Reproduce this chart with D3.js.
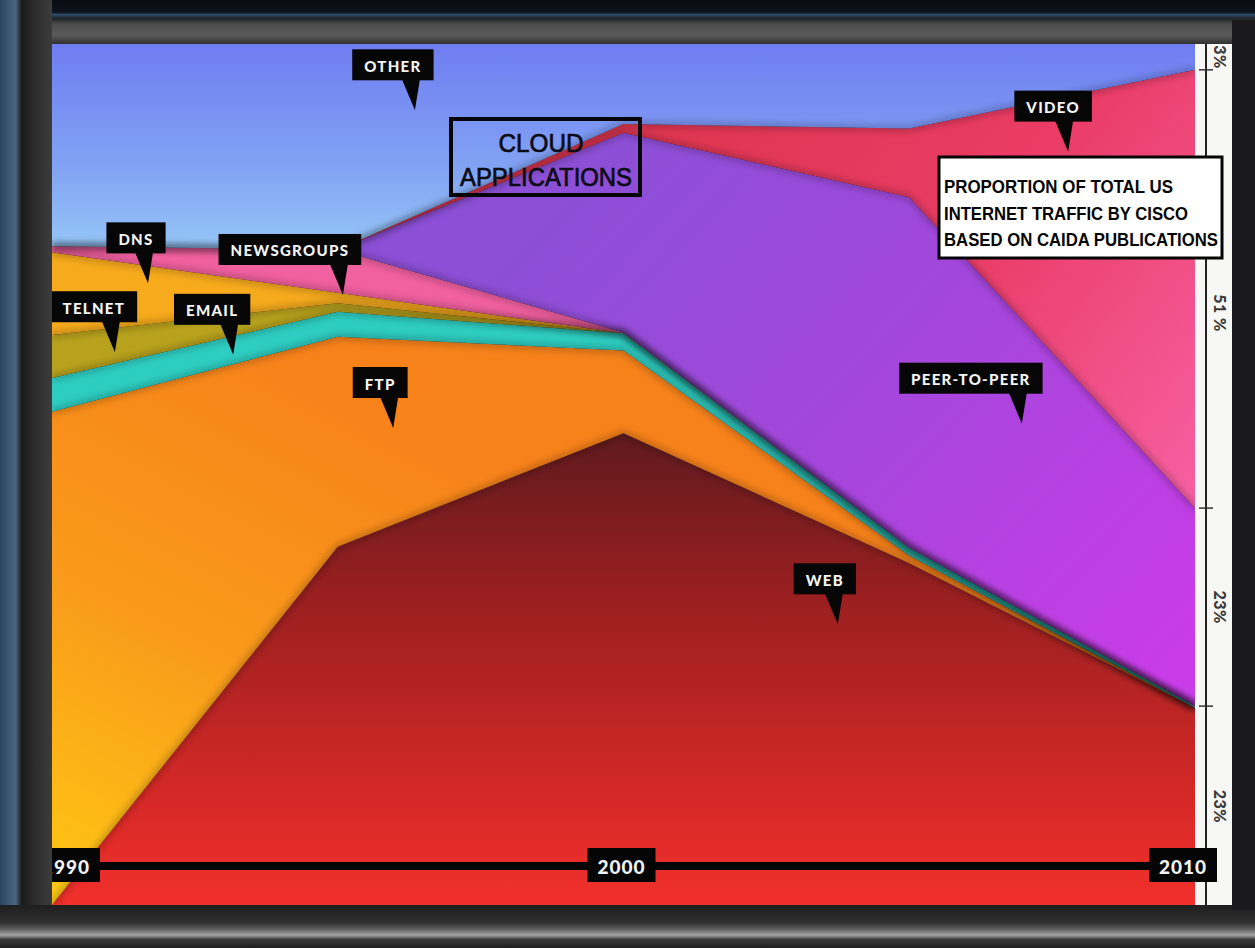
<!DOCTYPE html>
<html><head><meta charset="utf-8">
<script src="https://cdn.jsdelivr.net/npm/d3@7"></script>
<style>html,body{margin:0;padding:0;background:#1b1d21;overflow:hidden}svg{display:block}</style>
</head><body><svg id="c" width="1255" height="948"></svg>
<script>
// ---- data (percent of total traffic) ----
const years      = [1990, 1995, 2000, 2005, 2010];
const web        = [0.0, 41.6, 54.8, 39.7, 22.9];
const ftp        = [57.3, 24.4, 9.6, 0.9, 0.0];
const email      = [3.9, 2.9, 2.0, 0.9, 0.2];
const telnet     = [5.0, 1.0, 0.0, 0.0, 0.0];
const dns        = [9.6, 1.2, 0.0, 0.0, 0.0];
const newsgroups = [0.7, 5.0, 0.1, 0.0, 0.0];
const p2p        = [0.0, 0.0, 23.2, 40.7, 23.0];
const video      = [0.0, 0.0, 1.0, 8.0, 50.9];
const other      = [23.5, 23.9, 9.3, 9.8, 3.0];
const seriesNames = ["WEB","FTP","EMAIL","TELNET","DNS","NEWSGROUPS","PEER-TO-PEER","VIDEO","OTHER"];
const yearTicks = [1990, 2000, 2010];
const yearTickLabels = ["1990", "2000", "2010"];
const sideLabels = ["3%", "51 %", "23%", "23%"];   // 2010 shares: other, video, p2p, web
const titleLines = ["PROPORTION OF TOTAL US", "INTERNET TRAFFIC BY CISCO", "BASED ON CAIDA PUBLICATIONS"];
const cloudLines = ["CLOUD", "APPLICATIONS"];
// callouts: tip position in data units
const callouts = [
  {t:"OTHER", yr:1996.35, v:92.3, dx:-22},
  {t:"DNS", yr:1991.68, v:72.2, dx:-12},
  {t:"NEWSGROUPS", yr:1995.09, v:70.85, dx:-53},
  {t:"TELNET", yr:1991.10, v:64.2, dx:-21},
  {t:"EMAIL", yr:1993.17, v:63.9, dx:-21},
  {t:"FTP", yr:1995.97, v:55.4, dx:-13},
  {t:"VIDEO", yr:2007.78, v:87.5, dx:-15},
  {t:"PEER-TO-PEER", yr:2006.97, v:55.9, dx:-51},
  {t:"WEB", yr:2003.75, v:32.6, dx:-13}
];

const seriesValues = [web, ftp, email, telnet, dns, newsgroups, p2p, video, other];
const rows = years.map((yr,i)=>{const r={year:yr}; seriesNames.forEach((k,j)=>r[k]=seriesValues[j][i]); return r;});

const svg = d3.select("#c");
const P = {l:52, t:44, r:1195, b:905};
const x = d3.scaleLinear().domain([1990,2010]).range([P.l,P.r]);
const y = d3.scaleLinear().domain([0,100]).range([P.b,P.t]);

const defs = svg.append("defs");
function lin(id, x1,y1,x2,y2, stops){
  const g = defs.append("linearGradient").attr("id",id).attr("gradientUnits","userSpaceOnUse")
    .attr("x1",x1).attr("y1",y1).attr("x2",x2).attr("y2",y2);
  stops.forEach(s=>g.append("stop").attr("offset",s[0]).attr("stop-color",s[1]));
}
lin("g-web", 0,430,0,905, [[0,"#5e1a1e"],[0.35,"#9a1f20"],[0.75,"#d22826"],[1,"#f2302c"]]);
lin("g-ftp", 330,380,60,905, [[0,"#f7821a"],[0.5,"#f99a1a"],[1,"#ffc814"]]);
lin("g-other", 0,44,0,250, [[0,"#6f7df1"],[0.6,"#82a3f4"],[1,"#96c6f7"]]);
lin("g-video", 650,120,1195,520, [[0,"#df3550"],[0.5,"#ea3c66"],[1,"#f761a4"]]);
lin("g-p2p", 600,150,1150,680, [[0,"#8c4fd6"],[0.5,"#a546dc"],[1,"#c93ce8"]]);
lin("g-frameTop", 0,0,0,44, [[0,"#080b10"],[0.28,"#0e141c"],[0.33,"#2f4b69"],[0.42,"#1f2428"],[0.55,"#4c4c4c"],[0.8,"#5a5a5a"],[1,"#303030"]]);
lin("g-frameLeft", 0,0,52,0, [[0,"#2b4560"],[0.3,"#4a6580"],[0.42,"#1a1a1a"],[0.7,"#2e2e2e"],[1,"#3c3c3c"]]);
lin("g-frameBot", 0,905,0,948, [[0,"#1e1e1e"],[0.4,"#2e2e2e"],[0.55,"#5a5a5a"],[0.7,"#a4a4a4"],[0.8,"#3a3a3a"],[1,"#202020"]]);

const fills = {"WEB":"url(#g-web)","FTP":"url(#g-ftp)","EMAIL":"#2ecdc1","TELNET":"#b8a21d","DNS":"#f6aa1c",
  "NEWSGROUPS":"#f1609f","PEER-TO-PEER":"url(#g-p2p)","VIDEO":"url(#g-video)","OTHER":"url(#g-other)"};

const blur = defs.append("filter").attr("id","blur").attr("x","-10%").attr("y","-10%").attr("width","120%").attr("height","120%");
blur.append("feGaussianBlur").attr("stdDeviation",3.5);
defs.append("clipPath").attr("id","plotClip").append("rect").attr("x",P.l).attr("y",P.t).attr("width",P.r-P.l).attr("height",P.b-P.t);
defs.append("clipPath").attr("id","labClip").append("rect").attr("x",P.l).attr("y",P.t).attr("width",1255-P.l).attr("height",P.b-P.t);

// frame / background
svg.append("rect").attr("width",1255).attr("height",948).attr("fill","#1c1e22");
svg.append("rect").attr("x",0).attr("y",0).attr("width",1255).attr("height",44).attr("fill","url(#g-frameTop)");
svg.append("rect").attr("x",0).attr("y",0).attr("width",52).attr("height",948).attr("fill","url(#g-frameLeft)");
svg.append("rect").attr("x",0).attr("y",905).attr("width",1255).attr("height",43).attr("fill","url(#g-frameBot)");
svg.append("rect").attr("x",1232).attr("y",20).attr("width",23).attr("height",890).attr("fill","#1a1a1c");

// stacked areas
const stack = d3.stack().keys(seriesNames)(rows);
const area = d3.area().x(d=>x(d.data.year)).y0(d=>y(d[0])).y1(d=>y(d[1]));
const g = svg.append("g").attr("clip-path","url(#plotClip)");
g.selectAll("path.area").data(stack).join("path").attr("class","area")
  .attr("d",area).attr("fill",d=>fills[d.key]);
// soft boundary shading
const line = d3.line().x(d=>x(d.data.year)).y(d=>y(d[1]));
g.selectAll("path.edge").data(stack.slice(0,-1)).join("path").attr("class","edge")
  .attr("d",line).attr("fill","none").attr("stroke","#000").attr("stroke-opacity",0.28)
  .attr("stroke-width",5).attr("filter","url(#blur)");

// right side percentage strip
svg.append("rect").attr("x",P.r).attr("y",P.t).attr("width",1232-P.r).attr("height",P.b-P.t).attr("fill","#f7f7f5");
svg.append("line").attr("x1",1206).attr("x2",1206).attr("y1",P.t).attr("y2",P.b).attr("stroke","#222").attr("stroke-width",2);
const last = rows.length-1;
const sideKeys = ["OTHER","VIDEO","PEER-TO-PEER","WEB"];
const sideNudge = [0, 24, 0, 0];
const sideSeries = sideKeys.map(k=>stack.find(s=>s.key===k)[last]);
svg.selectAll("line.stick").data(sideSeries.slice(0,3)).join("line").attr("class","stick")
  .attr("x1",1199).attr("x2",1213).attr("y1",d=>y(d[0])).attr("y2",d=>y(d[0])).attr("stroke","#333").attr("stroke-width",1.5);
const sideG = svg.append("g").attr("clip-path","url(#labClip)");
sideG.selectAll("text").data(sideSeries).join("text")
  .attr("transform",(d,i)=>`translate(1218,${y((d[0]+d[1])/2)+sideNudge[i]}) rotate(90)`)
  .attr("text-anchor","middle").attr("dominant-baseline","middle")
  .attr("font-family","Lato, 'DejaVu Sans', sans-serif").attr("font-weight",900).attr("font-size",16)
  .attr("letter-spacing",0.5).attr("fill","#3a3a3a").text((d,i)=>sideLabels[i]);

// year axis
const lab = svg.append("g").attr("clip-path","url(#labClip)");
lab.append("line").attr("x1",P.l).attr("x2",P.r).attr("y1",866).attr("y2",866).attr("stroke","#050505").attr("stroke-width",8);
const yearNudge = [14,-2,-12];
const yl = lab.selectAll("g.yl").data(yearTicks).join("g").attr("class","yl")
  .attr("transform",(d,i)=>`translate(${x(d)+yearNudge[i]},865)`);
yl.append("rect").attr("x",-34).attr("y",-17).attr("width",68).attr("height",34).attr("fill","#050505");
yl.append("text").attr("text-anchor","middle").attr("dominant-baseline","central").attr("y",1)
  .attr("font-family","Lato, 'DejaVu Sans', sans-serif").attr("font-weight",900).attr("font-size",19)
  .attr("letter-spacing",1).attr("fill","#f2f2f2").text((d,i)=>yearTickLabels[i]);

// callouts
const cg = lab.selectAll("g.co").data(callouts).join("g").attr("class","co");
cg.each(function(d){
  const s = d3.select(this);
  const tx = x(d.yr), ty = y(d.v);
  const bh = 31, bottom = ty - 30, cx = tx + d.dx;
  const t = s.append("text").attr("x",cx).attr("y",bottom-bh/2+1).attr("text-anchor","middle")
    .attr("dominant-baseline","central").attr("font-family","Lato, 'DejaVu Sans', sans-serif")
    .attr("font-weight",900).attr("font-size",15).attr("letter-spacing",1.3).attr("fill","#f4f4f4").text(d.t);
  const w = t.node().getComputedTextLength() + 24;
  s.insert("rect","text").attr("x",cx-w/2).attr("y",bottom-bh).attr("width",w).attr("height",bh).attr("fill","#060606");
  s.insert("path","text").attr("d",`M${tx-13},${bottom-1}L${tx+5},${bottom-1}L${tx},${ty}Z`).attr("fill","#060606");
});

// cloud applications box
const cb = svg.append("g");
cb.append("rect").attr("x",451).attr("y",119).attr("width",189).attr("height",76)
  .attr("fill","none").attr("stroke","#050505").attr("stroke-width",4);
cb.selectAll("text").data(cloudLines).join("text")
  .attr("x",(d,i)=>i?546:541).attr("y",(d,i)=>i?186:152).attr("text-anchor","middle")
  .attr("font-family","'Liberation Sans Narrow','Arial Narrow','Liberation Sans',sans-serif")
  .attr("font-size",26).attr("fill","#0c0c14").attr("stroke","#0c0c14").attr("stroke-width",0.7)
  .attr("textLength",(d,i)=>i?172:85)
  .attr("lengthAdjust","spacingAndGlyphs").text(d=>d);

// source box
const ib = svg.append("g");
ib.append("rect").attr("x",939).attr("y",157).attr("width",283).attr("height",101)
  .attr("fill","#ffffff").attr("stroke","#050505").attr("stroke-width",3);
ib.selectAll("text").data(titleLines).join("text")
  .attr("x",944).attr("y",(d,i)=>193+i*26.5)
  .attr("font-family","'Liberation Sans Narrow','Arial Narrow','Liberation Sans',sans-serif")
  .attr("font-weight",700).attr("font-size",18).attr("fill","#050505")
  .attr("textLength",(d,i)=>[229,244,274][i]).attr("lengthAdjust","spacingAndGlyphs").text(d=>d);
</script></body></html>
